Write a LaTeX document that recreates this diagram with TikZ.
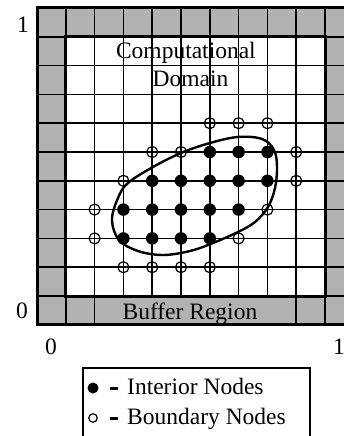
\documentclass[tikz,border=0pt]{standalone}
\usepackage{fontspec}
\setmainfont{Liberation Serif}
\definecolor{buffergray}{gray}{0.70}
\begin{document}
\begin{tikzpicture}[x=1pt,y=-1pt,
  gridline/.style={line width=1.7pt},
  borderline/.style={line width=3pt},
  bnode/.style={circle,draw,line width=1.2pt,minimum size=11pt,inner sep=0pt},
  inode/.style={circle,fill=black,minimum size=12.5pt,inner sep=0pt},
  lbl/.style={font=\fontsize{23.5}{27}\selectfont, inner sep=0pt},
  curve/.style={line width=2.4pt}]
\useasboundingbox (0,0) rectangle (344,436);
\clip (0,0) rectangle (344,436);
\begin{scope}[shift={(37,8)},x=28.8pt,y=-28.8pt]
  \fill[buffergray] (0,0) rectangle (11,11);
  \fill[white] (1,1) rectangle (10,10);
  \foreach \i in {1,...,10} \draw[gridline] (\i,0) -- (\i,11);
  \foreach \j in {1,...,10} \draw[gridline] (0,\j) -- (11,\j);
  \fill[buffergray] (2.04,10.04) rectangle (8.96,10.96);
  \draw[borderline] (0,0) rectangle (11,11);
  \draw[borderline] (1,1) rectangle (10,10);
  \node[lbl,anchor=base] (comp) at (5.17,1.77) {Computational};
  \node[lbl,anchor=base] (dom) at (5.33,2.74) {Domain};
  \node[lbl,anchor=base] (buf) at (5.31,10.8) {Buffer Region};
  % interior nodes
  \foreach \i in {6,7,8} \node[inode] (i-\i-5) at (\i,5) {};
  \foreach \i in {4,...,8} \node[inode] (i-\i-6) at (\i,6) {};
  \foreach \i in {3,...,7} \node[inode] (i-\i-7) at (\i,7) {};
  \foreach \i in {3,...,6} \node[inode] (i-\i-8) at (\i,8) {};
  % boundary nodes
  \foreach \p/\q in {6/4,7/4,8/4,4/5,5/5,9/5,3/6,9/6,2/7,8/7,2/8,7/8,3/9,4/9,5/9,6/9}
    \node[bnode] (b-\p-\q) at (\p,\q) {};
\end{scope}
% domain boundary curve
\draw[curve] plot[smooth cycle, tension=0.6] coordinates {
  (112,220) (118,198) (128,183) (153,167) (181,153) (210,143) (238,137)
  (262,139) (274,150) (277,167) (275,188) (268,207) (255,222) (238,232)
  (213,243) (190,251) (163,255) (138,251) (119,240)};
% axis labels
\node[lbl] (y1) at (23,25) {1};
\node[lbl] (y0) at (22,311) {0};
\node[lbl] (x0) at (51,347) {0};
\node[lbl] (x1) at (339,347) {1};
% legend
\draw[line width=1.2pt] (83,450) -- (83,368) -- (310,368) -- (310,450);
\node[circle,fill=black,minimum width=10pt,minimum height=11pt,inner sep=0pt] (li) at (93,388) {};
\draw[line width=3pt] (110,388) -- (118,388);
\node[lbl,anchor=base west] (lit) at (127,394) {Interior Nodes};
\node[circle,draw,line width=1.2pt,minimum size=8.5pt,inner sep=0pt] (lb) at (93,418) {};
\draw[line width=3pt] (110,418) -- (118,418);
\node[lbl,anchor=base west] (lbt) at (127,424) {Boundary Nodes};
\end{tikzpicture}
\end{document}
